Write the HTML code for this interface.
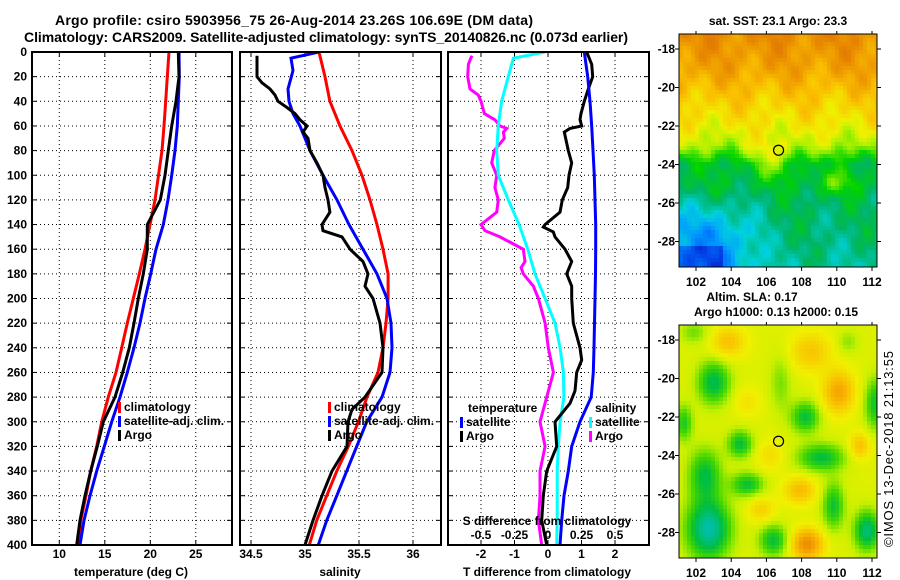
<!DOCTYPE html>
<html><head><meta charset="utf-8">
<style>
html,body{margin:0;padding:0;background:#fff;}
svg{display:block;font-family:"Liberation Sans",Arial,sans-serif;}
text{font-weight:bold;font-size:12px;fill:#000;}
</style></head>
<body>
<svg id="fig" width="900" height="580" viewBox="0 0 900 580" xmlns="http://www.w3.org/2000/svg">
<rect width="900" height="580" fill="#fff"/>
<text x="294" y="25" text-anchor="middle" textLength="478" style="font-size:14px">Argo profile: csiro 5903956_75 26-Aug-2014 23.26S 106.69E (DM data)</text>
<text x="326" y="42" text-anchor="middle" textLength="604" style="font-size:14px">Climatology: CARS2009. Satellite-adjusted climatology: synTS_20140826.nc (0.073d earlier)</text>
<g id="panels"></g>
<g id="maps"></g>
<text transform="translate(893,449) rotate(-90)" text-anchor="middle" textLength="196" style="font-weight:normal;font-size:13px">©IMOS 13-Dec-2018 21:13:55</text>
</svg>
<script>
// ---------------- data ----------------
const depthTicks = [0,20,40,60,80,100,120,140,160,180,200,220,240,260,280,300,320,340,360,380,400];
const tempDepths = [0,20,40,60,80,100,120,140,160,180,200,220,240,260,280,300,320,340,360,380,400];
const tempClim = [22.05,21.87,21.69,21.51,21.29,20.9,20.52,19.97,19.42,18.79,18.13,17.47,16.86,16.23,15.38,14.66,14.11,13.45,12.93,12.35,12.09];
const tempSat = [23.15,23.19,23.08,22.97,22.71,22.35,21.95,21.43,20.63,20.04,19.42,18.87,18.21,17.47,16.67,15.76,14.95,14.11,13.37,12.71,12.27];
const tempArgo = [23.08,23.15,22.82,22.35,21.98,21.62,21.1,19.67,19.67,19.23,18.68,18.21,17.69,16.97,16.12,14.84,14.18,13.45,12.82,12.27,11.91];
const salClimDepths = [0,20,40,60,80,100,120,140,160,180,200,220,240,260,280,300,320,340,360,380,400];
const salClim = [35.13,35.185,35.231,35.324,35.435,35.528,35.602,35.667,35.722,35.769,35.769,35.75,35.722,35.676,35.574,35.494,35.401,35.294,35.201,35.108,35.04];
const salSatDepths = [0,5,15,30,40,50,60,80,100,120,140,160,180,200,220,240,260,280,300,320,340,360,380,400];
const salSat = [35.13,34.87,34.889,34.843,34.852,34.889,34.954,35.046,35.167,35.296,35.407,35.537,35.667,35.759,35.796,35.806,35.787,35.713,35.571,35.479,35.386,35.294,35.201,35.123];
const salArgoDepths = [3,20,25,30,35,40,45,50,55,60,65,70,80,90,100,110,120,130,140,145,150,160,170,180,190,200,220,240,260,280,290,300,320,340,360,380,400];
const salArgo = [34.556,34.556,34.602,34.676,34.722,34.75,34.833,34.907,34.954,35.019,34.981,35.028,35.046,35.111,35.167,35.185,35.213,35.231,35.157,35.167,35.343,35.417,35.537,35.583,35.556,35.63,35.694,35.722,35.713,35.556,35.435,35.398,35.389,35.25,35.157,35.074,35.0];
const tdSatDepths = [0,20,40,60,80,100,120,140,160,180,200,220,240,260,280,300,320,340,360,380,400];
const tdSat = [1.084,1.185,1.254,1.304,1.343,1.382,1.403,1.424,1.424,1.418,1.403,1.388,1.373,1.352,1.29,0.955,0.707,0.606,0.478,0.409,0.358];
const tdArgoDepths = [0,10,20,30,40,50,55,60,62,65,80,90,100,110,120,130,140,142,146,150,160,170,180,190,200,220,240,250,260,275,285,300,320,340,360,380,400];
const tdArgo = [1.155,1.304,1.334,1.203,1.084,0.985,0.955,1.006,0.657,0.487,0.606,0.707,0.627,0.588,0.427,0.358,-0.09,-0.14,0.158,0.209,0.507,0.707,0.558,0.707,0.707,0.755,0.955,1.006,0.857,0.806,0.657,0.209,0.26,-0.039,-0.14,-0.188,-0.039];
const sdSatDepths = [0,5,10,20,40,60,80,100,120,140,160,180,200,220,240,260,280,300,320,340,360,380,400];
const sdSat = [-0.022,-0.258,-0.271,-0.296,-0.346,-0.371,-0.383,-0.371,-0.296,-0.216,-0.151,-0.097,-0.022,0.052,0.09,0.115,0.119,0.09,0.077,0.069,0.069,0.069,0.065];
const sdArgoDepths = [3,10,20,30,35,40,50,55,60,62,65,70,80,90,100,110,120,130,140,145,150,160,170,175,180,190,200,220,240,260,280,300,320,340,360,380,400];
const sdArgo = [-0.569,-0.594,-0.599,-0.582,-0.52,-0.5,-0.475,-0.396,-0.358,-0.308,-0.333,-0.326,-0.401,-0.42,-0.383,-0.396,-0.371,-0.383,-0.5,-0.47,-0.358,-0.184,-0.172,-0.201,-0.184,-0.109,-0.072,-0.022,0.002,0.04,-0.01,-0.06,-0.022,-0.06,-0.06,-0.072,-0.047];
const tempTicks = [10,15,20,25];
const salTicks = [34.5,35,35.5,36];
const salTickLabels = ["34.5","35","35.5","36"];
const tdTicks = [-2,-1,0,1,2];
const sdTicks = [-0.5,-0.25,0,0.25,0.5];
const sdTickLabels = ["-0.5","-0.25","0","0.25","0.5"];
const latTicks = [-18,-20,-22,-24,-26,-28];
const lonTicks = [102,104,106,108,110,112];
const argoLon = 106.69, argoLat = -23.26;

// ---------------- helpers ----------------
const NS = "http://www.w3.org/2000/svg";
function mk(tag, attrs, parent){const e=document.createElementNS(NS,tag);for(const k in attrs)e.setAttribute(k,attrs[k]);if(parent)parent.appendChild(e);return e;}
const PT=52, PB=545;
const yDepth = d => PT + d*(PB-PT)/400;
const xTemp = t => 32 + (t-7)*9.1;
const xSal = s => 251 + (s-34.5)*108;
const xTd = d => 548 + d*33.5;
const xSd = s => 548 + s*134;

const panels = document.getElementById('panels');
function panel(name, x0, x1, xs, ticks, tickLabels, xlabel, xlabelX){
  const g = mk('g', {}, panels);
  
  
  const cp = mk('clipPath', {id:'clip-'+name}, g);
  mk('rect', {x:x0, y:PT, width:x1-x0, height:PB-PT}, cp);
  depthTicks.forEach(d=>{
    if(d>0 && d<400){ const l=mk('line',{x1:x0,x2:x1,y1:yDepth(d),y2:yDepth(d),stroke:'#000','stroke-width':1,'stroke-dasharray':'1,3'},g);
       }
    mk('line',{x1:x0,x2:x0+5,y1:yDepth(d),y2:yDepth(d),stroke:'#000','stroke-width':1},g);
    mk('line',{x1:x1-5,x2:x1,y1:yDepth(d),y2:yDepth(d),stroke:'#000','stroke-width':1},g);
  });
  ticks.forEach((t,i)=>{
    const x = xs(t);
    if(x>x0+3 && x<x1-3){ const l=mk('line',{x1:x,x2:x,y1:PT,y2:PB,stroke:'#000','stroke-width':1,'stroke-dasharray':'1,3'},g);
       }
    mk('line',{x1:x,x2:x,y1:PB,y2:PB-5,stroke:'#000'},g);
    mk('line',{x1:x,x2:x,y1:PT,y2:PT+5,stroke:'#000'},g);
    const tx = mk('text',{x:x,y:558,'text-anchor':'middle'},g);
    tx.textContent = tickLabels ? tickLabels[i] : String(t);
     
  });
  const xl = mk('text',{x:xlabelX,y:576,'text-anchor':'middle'},g);
  xl.textContent = xlabel;
   
  return g;
}
function series(g, name, clipName, xs, depths, vals, color){
  const pts = depths.map((d,i)=>xs(vals[i]).toFixed(1)+','+yDepth(d).toFixed(1)).join(' ');
  const p = mk('polyline',{points:pts,fill:'none',stroke:color,'stroke-width':3,'clip-path':'url(#clip-'+clipName+')'},g);
  
  
}
function frame(g, x0, x1){
  const r = mk('rect',{x:x0,y:PT,width:x1-x0,height:PB-PT,fill:'none',stroke:'#000','stroke-width':2},g);
   
}
function legendItem(g, x, y, color, label){
  if(color){ const m = mk('rect',{x:x,y:y-9,width:3,height:11,fill:color},g);
      }
  const t = mk('text',{x:x+(color?6:0),y:y},g);
  t.textContent = label;
   
}

const g1 = panel('temperature-panel', 32, 232, xTemp, tempTicks, null, 'temperature (deg C)', 131);
series(g1,'temp-climatology-line','temperature-panel',xTemp,tempDepths,tempClim,'#f00');
series(g1,'temp-satellite-line','temperature-panel',xTemp,tempDepths,tempSat,'#00f');
series(g1,'temp-argo-line','temperature-panel',xTemp,tempDepths,tempArgo,'#000');
frame(g1,32,232);
depthTicks.forEach(d=>{const t=mk('text',{x:27,y:yDepth(d)+4,'text-anchor':'end'},g1);t.textContent=String(d);
   });
legendItem(g1,118,411,'#f00','climatology');
legendItem(g1,118,425,'#00f','satellite-adj. clim.');
legendItem(g1,118,439,'#000','Argo');

const g2 = panel('salinity-panel', 240, 441, xSal, salTicks, salTickLabels, 'salinity', 340);
series(g2,'sal-climatology-line','salinity-panel',xSal,salClimDepths,salClim,'#f00');
series(g2,'sal-satellite-line','salinity-panel',xSal,salSatDepths,salSat,'#00f');
series(g2,'sal-argo-line','salinity-panel',xSal,salArgoDepths,salArgo,'#000');
frame(g2,240,441);
legendItem(g2,328,411,'#f00','climatology');
legendItem(g2,328,425,'#00f','satellite-adj. clim.');
legendItem(g2,328,439,'#000','Argo');

const g3 = panel('difference-panel', 448, 649, xTd, tdTicks, null, 'T difference from climatology', 547);
series(g3,'sdiff-argo-line','difference-panel',xSd,sdArgoDepths,sdArgo,'#f0f');
series(g3,'sdiff-satellite-line','difference-panel',xSd,sdSatDepths,sdSat,'#0ff');
series(g3,'tdiff-argo-line','difference-panel',xTd,tdArgoDepths,tdArgo,'#000');
series(g3,'tdiff-satellite-line','difference-panel',xTd,tdSatDepths,tdSat,'#00f');
frame(g3,448,649);
legendItem(g3,468,412,null,'temperature');
legendItem(g3,460,426,'#00f','satellite');
legendItem(g3,460,440,'#000','Argo');
legendItem(g3,595,412,null,'salinity');
legendItem(g3,589,426,'#0ff','satellite');
legendItem(g3,589,440,'#f0f','Argo');
{const t=mk('text',{x:547,y:525,'text-anchor':'middle'},g3);t.textContent='S difference from climatology';
  }
sdTicks.forEach((s,i)=>{const t=mk('text',{x:xSd(s),y:539,'text-anchor':'middle'},g3);t.textContent=sdTickLabels[i];
  });

// ---------------- maps ----------------
const maps = document.getElementById('maps');
function cmap(stops, v){
  v=Math.max(0,Math.min(1,v));
  for(let i=1;i<stops.length;i++){ if(v<=stops[i][0]){const a=stops[i-1],b=stops[i];const f=(v-a[0])/(b[0]-a[0]);
    return 'rgb('+[1,2,3].map(k=>Math.round(a[k]+(b[k]-a[k])*f)).join(',')+')';}}
  const l=stops[stops.length-1]; return 'rgb('+l[1]+','+l[2]+','+l[3]+')';
}
const clamp01 = v => Math.max(0,Math.min(1,v));
const sstStops=[[0,0,0,120],[0.12,0,60,230],[0.25,0,150,255],[0.35,0,210,220],[0.45,0,180,100],[0.55,0,210,0],[0.65,170,240,0],[0.72,240,240,0],[0.82,250,190,0],[0.95,230,130,0],[1,220,120,0]];
const slaStops=[[0,0,190,170],[0.2,0,190,60],[0.35,70,215,0],[0.5,200,240,0],[0.6,240,240,0],[0.78,250,190,0],[1,235,135,0]];
const latProf=[[-17.2,0.93],[-19,0.88],[-20.5,0.8],[-22,0.73],[-23,0.66],[-24,0.5],[-26,0.46],[-27.5,0.44],[-29.4,0.41]];
function sstField(lon,lat){
  let b=0.41;
  for(let i=1;i<latProf.length;i++){ if(lat>=latProf[i][0]){const a=latProf[i-1],c=latProf[i];b=a[1]+(c[1]-a[1])*(lat-a[0])/(c[0]-a[0]);break;} }
  b -= 0.17*clamp01((106.5-lon)/3)*clamp01((-25.3-lat)/2.2);
  if(lat<-28.3 && lon<103.5) b -= 0.1;
  b += 0.12*Math.exp(-((lon-106.3)**2/2+(lat+23.8)**2/1));
  b += 0.1*Math.exp(-((lon-110)**2/2+(lat+25)**2/0.4));
  b += 0.03*Math.sin(lon*1.7+lat*0.9)+0.025*Math.sin(lon*3.1-lat*2.3)+0.015*Math.sin(lon*5.3+lat*4.1);
  return b;
}
// blobs: lon, lat, amplitude, radius-lon, radius-lat
const slaBlobs=[[103,-20.2,-0.38,0.9,1.1],[106.8,-20.2,-0.14,0.6,1.5],[108.2,-22,-0.34,0.8,0.8],[104.5,-23.4,-0.34,0.7,0.7],[112.2,-21.3,-0.32,0.6,1.3],
 [101.9,-17.6,-0.15,0.8,0.6],[110.6,-18.1,-0.12,0.6,0.6],[109.1,-24.1,-0.35,1.3,0.7],[104.9,-25.5,-0.33,0.9,0.6],[109.8,-26.6,-0.32,0.6,1.2],
 [102.7,-27.8,-0.55,1.2,1.5],[102.5,-25,-0.35,0.9,1.3],[106.4,-28.4,-0.34,0.8,0.8],[111.7,-27.9,-0.45,0.7,1.0],[101.3,-22.3,-0.28,0.5,0.9],
 [103.8,-18.1,0.22,1.0,0.8],[108.5,-18.6,0.2,1.2,1.0],[110.1,-20.7,0.32,0.9,1.1],[104.9,-21.2,0.1,0.8,0.8],[111.3,-23.5,0.22,0.6,0.7],
 [108.3,-28.6,0.42,0.9,0.8],[107.9,-25.8,0.24,0.9,0.7],[105.7,-26.8,0.16,0.8,0.7],[106.2,-24,0.12,0.8,0.8]];
function slaField(lon,lat){
  let v=0.55;
  slaBlobs.forEach(b=>{v+=b[2]*Math.exp(-(((lon-b[0])/b[3])**2+((lat-b[1])/b[4])**2));});
  return v;
}
function drawMap(name, top, field, stops){
  const L=679,R=877,B=top+233;
  const lonAt = x => 102 + (x-696)/17.6;
  const latAt = y => -18 - (y-(top+15))/19.25;
  const g = mk('g',{},maps);
  
  
  const cs=4;
  for(let y=top;y<B;y+=cs){for(let x=L;x<R;x+=cs){
    const w=Math.min(cs,R-x),h=Math.min(cs,B-y);
    mk('rect',{x:x,y:y,width:w,height:h,fill:cmap(stops,field(lonAt(x+cs/2),latAt(y+cs/2))),'shape-rendering':'crispEdges'},g);
  }}
  const fr=mk('rect',{x:L,y:top,width:R-L,height:B-top,fill:'none',stroke:'#000','stroke-width':1},g);
   
  latTicks.forEach(la=>{const y=(top+15)+(-18-la)*19.25;
    mk('line',{x1:L-4,x2:L,y1:y,y2:y,stroke:'#000'},g); mk('line',{x1:R,x2:R+4,y1:y,y2:y,stroke:'#000'},g);
    const t=mk('text',{x:675,y:y+4,'text-anchor':'end'},g); t.textContent=String(la);
     });
  lonTicks.forEach(lo=>{const x=696+(lo-102)*17.6;
    mk('line',{x1:x,x2:x,y1:B,y2:B+4,stroke:'#000'},g); mk('line',{x1:x,x2:x,y1:top,y2:top-3,stroke:'#000'},g);
    const t=mk('text',{x:x,y:B+19,'text-anchor':'middle'},g); t.textContent=String(lo);
     });
  const c=mk('circle',{cx:696+(argoLon-102)*17.6,cy:(top+15)+(-18-argoLat)*19.25,r:5,fill:'none',stroke:'#000','stroke-width':1.2},g);
   
  return g;
}
drawMap('sst-map',34,sstField,sstStops);
drawMap('sla-map',325,slaField,slaStops);
function label(x,y,txt,name){const t=mk('text',{x:x,y:y,'text-anchor':'middle'},maps);t.textContent=txt;
   }
label(778,25,'sat. SST: 23.1 Argo: 23.3','sst-map-title');
label(752,301,'Altim. SLA: 0.17','sla-map-title');
label(776,316,'Argo h1000: 0.13 h2000: 0.15','argo-height-label');
</script>
</body></html>
